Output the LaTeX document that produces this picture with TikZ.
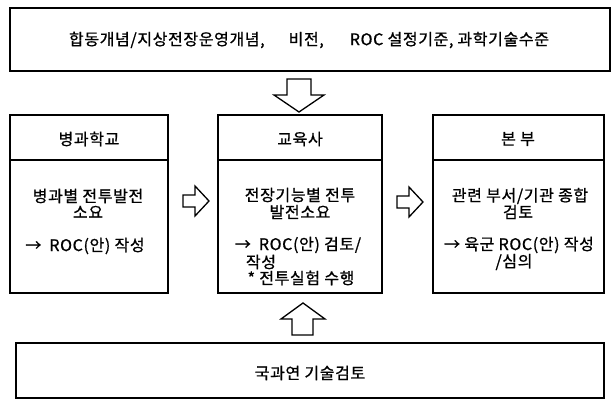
\documentclass[tikz,border=0pt]{standalone}
\usepackage{fontspec}
\setmainfont[LetterSpace=4,FakeBold=0.9]{Noto Sans CJK KR}
\begin{document}
\begin{tikzpicture}[x=1pt,y=-1pt,
  box/.style={draw=black,line width=1.4pt,inner sep=0pt},
  txt/.style={font=\fontsize{16}{18}\selectfont,inner sep=0pt,anchor=center},
  blk/.style={draw=black,line width=1.3pt,fill=white,line join=miter}]
\useasboundingbox (0,0) rectangle (614,399);
% boxes
\node[box,minimum width=600pt,minimum height=63pt] (top) at (310,39.5) {};
\node[box,minimum width=158pt,minimum height=178pt] (L) at (89,204) {};
\node[box,minimum width=164pt,minimum height=178pt] (C) at (300,204) {};
\node[box,minimum width=171pt,minimum height=178pt] (R) at (518.5,204) {};
\node[box,minimum width=588pt,minimum height=55pt] (bot) at (310,370.5) {};
% header dividers
\coordinate (Ld1) at (10,160); \coordinate (Ld2) at (168,160);
\coordinate (Cd1) at (218,160); \coordinate (Cd2) at (382,160);
\coordinate (Rd1) at (433,160); \coordinate (Rd2) at (604,160);
\draw[line width=1.4pt] (Ld1) -- (Ld2);
\draw[line width=1.4pt] (Cd1) -- (Cd2);
\draw[line width=1.4pt] (Rd1) -- (Rd2);
% texts
\node[txt] (t0) at (309,40) {합동개념/지상전장운영개념,\hspace{24pt}비전,\hspace{26pt}ROC 설정기준,\hspace{4pt}과학기술수준};
\node[txt] (h1) at (89,139) {병과학교};
\node[txt] (h2) at (300,139) {교육사};
\node[txt] (h3) at (518,139) {본 부};
\node[txt] (l1) at (88,196) {병과별 전투발전};
\node[txt] (l2) at (88,212) {소요};
\node[txt] (l3) at (85,246) {→\hspace{8pt}ROC(안) 작성};
\node[txt] (c1) at (300,195) {전장기능별 전투};
\node[txt] (c2) at (300,212) {발전소요};
\node[txt] (c3) at (298,245) {→\hspace{8pt}ROC(안) 검토/};
\node[txt] (c4) at (261,262) {작성};
\node[txt] (c5) at (301,278) {* 전투실험 수행};
\node[txt] (r1) at (520,196) {관련 부서/기관 종합};
\node[txt] (r2) at (518,212) {검토};
\node[txt] (r3) at (519,245) {→ 육군 ROC(안) 작성};
\node[txt] (r4) at (514,262) {/심의};
\node[txt] (b1) at (310,373) {국과연 기술검토};
% block arrows
\draw[blk] (287,79) -- (311,79) -- (311,95) -- (324,95) -- (299,112) -- (274,95) -- (287,95) -- cycle;
\draw[blk] (292,335) -- (313,335) -- (313,319) -- (325,319) -- (303,303) -- (281,319) -- (292,319) -- cycle;
\draw[blk] (183,195) -- (195,195) -- (195,186) -- (209,201) -- (195,216) -- (195,207) -- (183,207) -- cycle;
\draw[blk] (397,196) -- (409,196) -- (409,187) -- (423,202) -- (409,217) -- (409,208) -- (397,208) -- cycle;
\end{tikzpicture}
\end{document}
